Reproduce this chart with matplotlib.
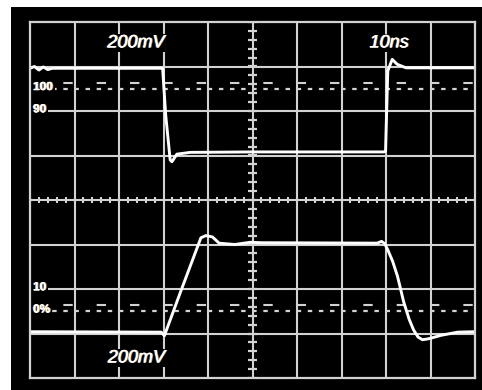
import matplotlib
matplotlib.use('Agg')
import matplotlib.pyplot as plt
from matplotlib.patches import Rectangle
import matplotlib.patheffects as pe
import numpy as np

# ---- data (in screen divisions: time 0..10, voltage -4..4) ----
top_t = [0.0, 0.1, 0.2, 0.3, 0.4, 0.5, 2.98, 3.05, 3.15, 3.19, 3.3, 3.6, 5.0, 7.95, 7.99, 8.04, 8.14, 8.25, 8.45, 10.0]
top_v = [2.96, 3.0, 2.92, 2.99, 2.93, 2.96, 2.96, 1.9, 0.9, 0.86, 1.03, 1.07, 1.08, 1.08, 1.1, 2.9, 3.16, 3.05, 2.97, 2.97]

bot_t = [0.0, 2.95, 3.02, 3.37, 3.84, 3.95, 4.1, 4.25, 4.6, 4.95, 5.2, 7.8, 7.9, 7.97, 8.04, 8.15, 8.26, 8.4, 8.52, 8.62, 8.72, 8.82, 8.95, 9.24, 9.61, 10.0]
bot_v = [-2.96, -2.97, -3.05, -2.1, -0.85, -0.80, -0.83, -0.97, -1.0, -0.95, -0.96, -0.97, -0.93, -0.98, -1.12, -1.38, -1.72, -2.30, -2.68, -2.92, -3.08, -3.14, -3.12, -3.04, -2.97, -2.96]

level_labels = ['100', '90', '10', '0%']
label_levels = [2.5, 2.0, -2.0, -2.5]
ref_levels = [2.5, -2.5]          # dashed 100% / 0% references
scale_labels = ['200mV', '10ns', '200mV']
scale_pos = [(2.38, 3.53), (8.07, 3.53), (2.39, -3.55)]

W, H = 482, 390
gridc = '#d2d2d2'

fig = plt.figure(figsize=(W / 100, H / 100), dpi=100)
fig.patch.set_facecolor('white')
fig.add_artist(Rectangle((11 / W, 0), 1 - 11 / W, 383 / H, transform=fig.transFigure,
                         facecolor='black', edgecolor='none', zorder=0))

ax = fig.add_axes([30 / W, 12 / H, 445 / W, 356 / H])
ax.set_facecolor('black')
ax.set_xlim(0, 10)
ax.set_ylim(-4, 4)
ax.set_xticks([])
ax.set_yticks([])
for s in ax.spines.values():
    s.set_color(gridc)
    s.set_linewidth(1.6)
    s.set_zorder(6)

# graticule
for i in range(1, 10):
    ax.axvline(i, color=gridc, lw=1.5, zorder=1)
for j in range(-3, 4):
    ax.axhline(j, color=gridc, lw=1.5, zorder=1)

# center axis minor ticks
minor_x = np.arange(0, 10.001, 0.2)
minor_y = np.arange(-4, 4.001, 0.2)
ax.vlines(minor_x, -0.07, 0.07, color=gridc, lw=1.5, zorder=1)
ax.hlines(minor_y, 5 - 0.09, 5 + 0.09, color=gridc, lw=1.6, zorder=1)

# dashed reference levels (two-row pattern)
for lv in ref_levels:
    ax.plot([0, 10], [lv, lv], color=gridc, lw=1.6, dashes=(2.0, 3.0), zorder=1.5)
    ax.plot([0, 10], [lv + 0.13, lv + 0.13], color=gridc, lw=1.5, dashes=(4.5, 11.5), zorder=1.5)

# traces
ax.plot(top_t, top_v, color='white', lw=2.1, zorder=4, solid_joinstyle='round')
ax.plot(bot_t, bot_v, color='white', lw=2.1, zorder=4, solid_joinstyle='round')

effects = [pe.withSimplePatchShadow(offset=(-0.7, 0), shadow_rgbFace='#4a8fe0', alpha=0.9),
           pe.withSimplePatchShadow(offset=(0.7, 0), shadow_rgbFace='#e8a040', alpha=0.9),
           pe.Normal()]

for lab, lv in zip(level_labels, label_levels):
    ax.text(0.07, lv - 0.03, lab, color='white', fontsize=8.5, fontweight='bold',
            family='Liberation Sans', ha='left', va='baseline', zorder=3,
            bbox=dict(facecolor='black', edgecolor='none', pad=1.2),
            path_effects=effects)

for lab, (x, y) in zip(scale_labels, scale_pos):
    ax.text(x, y, lab, color='white', fontsize=13, style='italic',
            family='Liberation Sans', ha='center', va='center', zorder=3,
            bbox=dict(facecolor='black', edgecolor='none', pad=0.5),
            path_effects=effects)

fig.savefig('out.png', dpi=100, facecolor='white')
